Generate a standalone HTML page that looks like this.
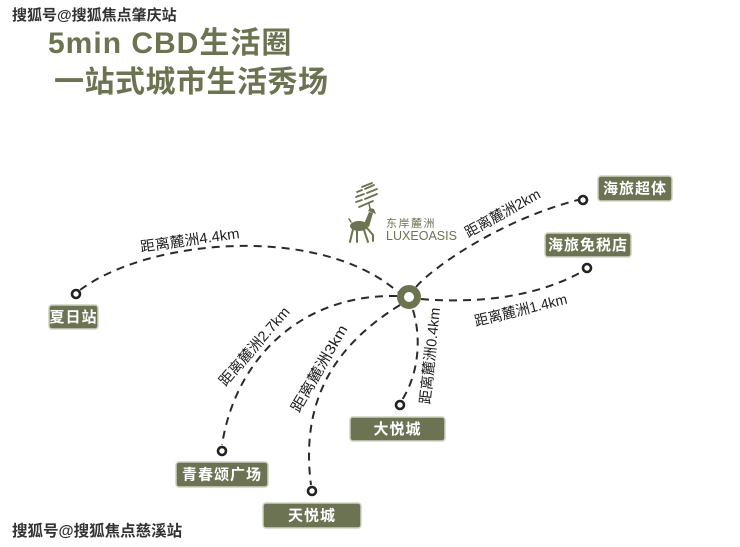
<!DOCTYPE html>
<html><head><meta charset="utf-8"><style>
html,body{margin:0;padding:0;background:#fff;}
svg{display:block;}
text{font-family:"Liberation Sans","Noto Sans CJK SC",sans-serif;}
</style></head><body>
<svg width="740" height="547" viewBox="0 0 740 547" xmlns="http://www.w3.org/2000/svg">
<rect width="740" height="547" fill="#fff"/>
<!-- watermark top -->
<text x="12" y="20" font-size="15" font-weight="bold" fill="#333" stroke="#fff" stroke-width="2.5" paint-order="stroke">搜狐号@搜狐焦点肇庆站</text>
<!-- title -->
<text x="48" y="53" font-size="30" font-weight="bold" fill="#6b7350" letter-spacing="1">5min CBD生活圈</text>
<text x="54" y="92" font-size="30" font-weight="bold" fill="#6b7350" letter-spacing="0.5">一站式城市生活秀场</text>

<!-- logo -->
<g stroke="#6b7350" fill="none" stroke-width="1.8" stroke-linecap="round">
<path d="M362,187 l10,-4"/>
<path d="M357,192 l5,-2 M365,189 l9,-4"/>
<path d="M356,197 l8,-3 M367,193 l10,-4"/>
<path d="M356,202 l6,-2 M365,199 l12,-5"/>
<path d="M359,207 l14,-6"/>
</g>
<g fill="#6b7350" stroke="#6b7350" stroke-linecap="round">
<ellipse cx="359" cy="226" rx="9" ry="5" stroke="none"/>
<path d="M364,224 L369,212 L373,213 L369,227 Z" stroke="none"/>
<path d="M368,211 L376,214 L374,209 L370,208 Z" stroke="none"/>
<path d="M370,209 L369,203" stroke-width="1.5"/>
<path d="M351,222 L349,219" stroke-width="1.5"/>
<path d="M353,229 L350,242" stroke-width="2" fill="none"/>
<path d="M357,230 L357,242" stroke-width="2" fill="none"/>
<path d="M364,230 L368,242" stroke-width="2" fill="none"/>
<path d="M367,228 L373,235 L373,241" stroke-width="2" fill="none"/>
</g>
<text x="386" y="227" font-size="11" fill="#6b7350" letter-spacing="1.5">东岸麓洲</text>
<text x="386" y="240" font-size="12.5" fill="#6b7350" textLength="71" lengthAdjust="spacingAndGlyphs">LUXEOASIS</text>

<!-- dashed connectors -->
<g fill="none" stroke="#2a2a2a" stroke-width="2" stroke-dasharray="8 6">
<path d="M80,290 C150,238 320,224 398,292"/>
<path d="M416,287 C432,268 500,220 578,200"/>
<path d="M421,299 C480,304 540,296 583,271"/>
<path d="M413,310 C422,340 418,375 402,400"/>
<path d="M397,296 C300,294 235,360 222,445"/>
<path d="M400,305 C335,345 300,400 311,485"/>
</g>

<!-- center node -->
<circle cx="409" cy="297" r="8.5" fill="#fff" stroke="#6b7350" stroke-width="7"/>

<!-- endpoint dots -->
<g fill="#fff" stroke="#222" stroke-width="2.6">
<circle cx="583" cy="200" r="4"/>
<circle cx="587" cy="268" r="4"/>
<circle cx="76" cy="294" r="4"/>
<circle cx="400" cy="405" r="4"/>
<circle cx="222" cy="451" r="4"/>
<circle cx="312" cy="491" r="4"/>
</g>

<!-- connector labels -->
<g font-size="14.5" fill="#1e1e1e" dominant-baseline="central" text-anchor="middle">
<text transform="translate(190,241) rotate(-8)" textLength="100" lengthAdjust="spacingAndGlyphs">距离麓洲4.4km</text>
<text transform="translate(503,214) rotate(-29)" textLength="84" lengthAdjust="spacingAndGlyphs">距离麓洲2km</text>
<text transform="translate(521,311) rotate(-14)" textLength="95" lengthAdjust="spacingAndGlyphs">距离麓洲1.4km</text>
<text transform="translate(255,347) rotate(-49)" textLength="99" lengthAdjust="spacingAndGlyphs">距离麓洲2.7km</text>
<text transform="translate(320,369) rotate(-60)" textLength="98" lengthAdjust="spacingAndGlyphs">距离麓洲3km</text>
<text transform="translate(431,356) rotate(-84)" textLength="97" lengthAdjust="spacingAndGlyphs">距离麓洲0.4km</text>
</g>

<!-- label boxes -->
<g fill="#6b7352" stroke="#cfd2c2" stroke-width="1.5">
<rect x="598" y="176" width="74" height="25" rx="3"/>
<rect x="545" y="233" width="86" height="24" rx="3"/>
<rect x="49" y="305" width="49" height="24" rx="3"/>
<rect x="350" y="417" width="95" height="24" rx="3"/>
<rect x="176" y="462" width="92" height="25" rx="3"/>
<rect x="263" y="503" width="98" height="25" rx="3"/>
</g>
<g font-size="15" font-weight="bold" fill="#fff" text-anchor="middle" dominant-baseline="central" letter-spacing="1">
<text x="635" y="189">海旅超体</text>
<text x="588" y="245.5">海旅免税店</text>
<text x="73.5" y="317.5">夏日站</text>
<text x="397.5" y="429.5">大悦城</text>
<text x="222" y="475">青春颂广场</text>
<text x="312" y="516">天悦城</text>
</g>

<!-- watermark bottom -->
<text x="12" y="536" font-size="15.5" font-weight="bold" fill="#333" stroke="#fff" stroke-width="2.5" paint-order="stroke">搜狐号@搜狐焦点慈溪站</text>
</svg>
</body></html>
